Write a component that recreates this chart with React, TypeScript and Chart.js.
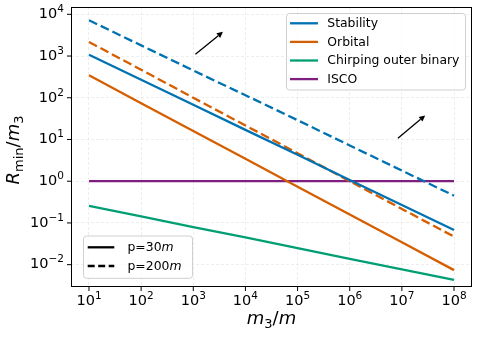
import React, { useEffect, useRef } from 'react';
import { Chart, registerables } from 'chart.js';

Chart.register(...registerables);

// ---- data ----
const massRatios = [1e1, 1e2, 1e3, 1e4, 1e5, 1e6, 1e7, 1e8];
const stabilityP30 = [1070, 270, 68, 17, 4.3, 1.07, 0.27, 0.068];
const stabilityP200 = [7200, 1800, 450, 115, 29, 7.2, 1.8, 0.45];
const orbitalP30 = [345, 74, 16, 3.45, 0.74, 0.16, 0.0345, 0.0074];
const orbitalP200 = [2170, 470, 100, 21.7, 4.7, 1.0, 0.217, 0.047];
const chirpingOuter = [0.257, 0.143, 0.079, 0.045, 0.025, 0.0138, 0.0077, 0.0043];
const iscoLine = [1, 1, 1, 1, 1, 1, 1, 1];

const xTickExponents = [1, 2, 3, 4, 5, 6, 7, 8];
const yTickExponents = [-2, -1, 0, 1, 2, 3, 4];

const seriesLabels = ['Stability', 'Orbital', 'Chirping outer binary', 'ISCO'];
const styleLabels = ['30', '200'];

// arrows (data coordinates): tail -> head
const arrowTailX = [1.1e3, 8.4e6];
const arrowTailY = [1.1e3, 10.7];
const arrowHeadX = [3.7e3, 2.8e7];
const arrowHeadY = [3.8e3, 37.7];

const BLUE = '#0072B2';
const ORANGE = '#D55E00';
const GREEN = '#009E73';
const PURPLE = '#7E1E80';
const seriesColors = [BLUE, ORANGE, GREEN, PURPLE];

const FONT = '"DejaVu Sans", sans-serif';
const LW = 2.3;
const DASH = [9, 4];

const pts = (ys: number[]) => massRatios.map((x, i) => ({ x, y: ys[i] }));

const decorPlugin = {
  id: 'decor',
  afterDraw(chart: any) {
    const { ctx, chartArea: a } = chart;
    const xs = chart.scales.x;
    const ys = chart.scales.y;
    ctx.save();

    // frame
    ctx.strokeStyle = '#000';
    ctx.lineWidth = 1;
    ctx.setLineDash([]);
    ctx.strokeRect(Math.round(a.left) + 0.5, Math.round(a.top) + 0.5, Math.round(a.right - a.left) - 1, Math.round(a.bottom - a.top) - 1);

    // ticks + labels
    ctx.fillStyle = '#000';
    const bigF = `14.5px ${FONT}`;
    const smallF = `10.5px ${FONT}`;
    xTickExponents.forEach((e) => {
      const px = xs.getPixelForValue(Math.pow(10, e));
      ctx.beginPath();
      ctx.moveTo(px, a.bottom);
      ctx.lineTo(px, a.bottom + 4);
      ctx.stroke();
      const es = String(e).replace('-', '\u2212');
      ctx.font = bigF;
      const w1 = ctx.measureText('10').width;
      ctx.font = smallF;
      const w2 = ctx.measureText(es).width;
      const start = px - (w1 + w2) / 2;
      ctx.textAlign = 'left';
      ctx.textBaseline = 'alphabetic';
      ctx.font = bigF;
      ctx.fillText('10', start, 305);
      ctx.font = smallF;
      ctx.fillText(es, start + w1, 299);
    });
    yTickExponents.forEach((e) => {
      const py = ys.getPixelForValue(Math.pow(10, e));
      ctx.beginPath();
      ctx.moveTo(a.left, py);
      ctx.lineTo(a.left - 4, py);
      ctx.stroke();
      const es = String(e).replace('-', '\u2212');
      ctx.font = smallF;
      const w2 = ctx.measureText(es).width;
      ctx.font = bigF;
      const w1 = ctx.measureText('10').width;
      const right = a.left - 7;
      ctx.textAlign = 'left';
      ctx.textBaseline = 'alphabetic';
      ctx.fillText('10', right - w2 - w1, py + 3.8);
      ctx.font = smallF;
      ctx.fillText(es, right - w2, py - 2.2);
    });

    // axis labels (mathtext-like)
    const LF = 18;
    const it = `italic ${LF}px ${FONT}`;
    const up = `${LF}px ${FONT}`;
    const sub = `${Math.round(LF * 0.7)}px ${FONT}`;
    const drawPieces = (pieces: [string, string, number][], cx: number, cy: number) => {
      let total = 0;
      pieces.forEach(([t, f]) => { ctx.font = f; total += ctx.measureText(t).width; });
      let cur = cx - total / 2;
      pieces.forEach(([t, f, dy]) => {
        ctx.font = f;
        ctx.fillText(t, cur, cy + dy);
        cur += ctx.measureText(t).width;
      });
    };
    ctx.textAlign = 'left';
    ctx.textBaseline = 'alphabetic';
    drawPieces([
      ['m', it, 0], ['3', sub, 4], ['/', up, 0], ['m', it, 0],
    ], (a.left + a.right) / 2, 324);

    ctx.save();
    ctx.translate(19, 150);
    ctx.rotate(-Math.PI / 2);
    drawPieces([
      ['R', it, 0], ['min', sub, 4], ['/', up, 0], ['m', it, 0], ['3', sub, 4],
    ], 0, 0);
    ctx.restore();

    // arrows
    ctx.strokeStyle = '#000';
    ctx.fillStyle = '#000';
    ctx.lineWidth = 1.3;
    arrowTailX.forEach((_, i) => {
      const x0 = xs.getPixelForValue(arrowTailX[i]);
      const y0 = ys.getPixelForValue(arrowTailY[i]);
      const x1 = xs.getPixelForValue(arrowHeadX[i]);
      const y1 = ys.getPixelForValue(arrowHeadY[i]);
      const ang = Math.atan2(y1 - y0, x1 - x0);
      const hl = 6, hw = 3;
      const bx = x1 - hl * Math.cos(ang);
      const by = y1 - hl * Math.sin(ang);
      ctx.beginPath();
      ctx.moveTo(x0, y0);
      ctx.lineTo(bx, by);
      ctx.stroke();
      ctx.beginPath();
      ctx.moveTo(x1, y1);
      ctx.lineTo(bx + hw * Math.sin(ang), by - hw * Math.cos(ang));
      ctx.lineTo(bx - hw * Math.sin(ang), by + hw * Math.cos(ang));
      ctx.closePath();
      ctx.fill();
    });

    const roundBox = (x: number, y: number, w: number, h: number) => {
      const r = 3;
      ctx.beginPath();
      ctx.moveTo(x + r, y);
      ctx.lineTo(x + w - r, y);
      ctx.arcTo(x + w, y, x + w, y + r, r);
      ctx.lineTo(x + w, y + h - r);
      ctx.arcTo(x + w, y + h, x + w - r, y + h, r);
      ctx.lineTo(x + r, y + h);
      ctx.arcTo(x, y + h, x, y + h - r, r);
      ctx.lineTo(x, y + r);
      ctx.arcTo(x, y, x + r, y, r);
      ctx.closePath();
      ctx.fillStyle = 'rgba(255,255,255,0.8)';
      ctx.fill();
      ctx.strokeStyle = '#d0d0d0';
      ctx.lineWidth = 1;
      ctx.stroke();
    };

    const LEGF = 12.4;

    // legend 1 (series colours)
    roundBox(286.5, 13.5, 179, 76.5);
    seriesLabels.forEach((lab, i) => {
      const yy = 23.3 + i * 18.6;
      ctx.strokeStyle = seriesColors[i];
      ctx.lineWidth = LW;
      ctx.setLineDash([]);
      ctx.beginPath();
      ctx.moveTo(290, yy);
      ctx.lineTo(318, yy);
      ctx.stroke();
      ctx.fillStyle = '#000';
      ctx.font = `${LEGF}px ${FONT}`;
      ctx.textBaseline = 'middle';
      ctx.textAlign = 'left';
      ctx.fillText(lab, 327.3, yy + 0.5);
    });

    // legend 2 (line styles)
    roundBox(83.5, 236, 109, 42.3);
    styleLabels.forEach((lab, i) => {
      const yy = 247.3 + i * 18.7;
      ctx.strokeStyle = '#000';
      ctx.lineWidth = LW;
      ctx.setLineDash(i === 0 ? [] : [7, 3.5]);
      ctx.beginPath();
      ctx.moveTo(87.7, yy);
      ctx.lineTo(114.3, yy);
      ctx.stroke();
      ctx.setLineDash([]);
      ctx.fillStyle = '#000';
      ctx.textBaseline = 'middle';
      ctx.textAlign = 'left';
      let cx = 127.5;
      const nf = `${LEGF}px ${FONT}`;
      const itf = `italic ${LEGF}px ${FONT}`;
      ctx.font = nf;
      ctx.fillText('p', cx, yy + 0.5);
      cx += ctx.measureText('p').width;
      ctx.fillText('=', cx, yy + 0.5);
      cx += ctx.measureText('=').width;
      ctx.fillText(lab, cx, yy + 0.5);
      cx += ctx.measureText(lab).width;
      ctx.font = itf;
      ctx.fillText('m', cx, yy + 0.5);
    });

    ctx.restore();
  },
};

export default function App() {
  const ref = useRef<HTMLCanvasElement | null>(null);
  useEffect(() => {
    if (!ref.current) return;
    const mk = (data: number[], color: string, dashed: boolean) => ({
      data: pts(data),
      borderColor: color,
      backgroundColor: color,
      borderWidth: LW,
      borderDash: dashed ? DASH : [],
      pointRadius: 0,
      showLine: true,
      fill: false,
      tension: 0,
      borderCapStyle: 'butt' as const,
    });
    const chart = new Chart(ref.current, {
      type: 'scatter',
      data: {
        datasets: [
          mk(stabilityP30, BLUE, false),
          mk(stabilityP200, BLUE, true),
          mk(orbitalP30, ORANGE, false),
          mk(orbitalP200, ORANGE, true),
          mk(chirpingOuter, GREEN, false),
          mk(iscoLine, PURPLE, false),
        ],
      },
      options: {
        animation: false,
        responsive: true,
        maintainAspectRatio: false,
        layout: { padding: { left: 0, top: 7, right: 7, bottom: 0 } },
        plugins: { legend: { display: false }, tooltip: { enabled: false } },
        scales: {
          x: {
            type: 'logarithmic',
            min: Math.pow(10, 0.655),
            max: Math.pow(10, 8.345),
            afterBuildTicks: (s: any) => { s.ticks = xTickExponents.map((e) => ({ value: Math.pow(10, e) })); },
            afterFit: (s: any) => { s.height = 50; },
            ticks: { display: false },
            grid: { color: 'rgba(170,170,170,0.25)', lineWidth: 0.8, drawTicks: false },
            border: { display: false, dash: [3, 2] },
          },
          y: {
            type: 'logarithmic',
            min: Math.pow(10, -2.535),
            max: Math.pow(10, 4.175),
            afterBuildTicks: (s: any) => { s.ticks = yTickExponents.map((e) => ({ value: Math.pow(10, e) })); },
            afterFit: (s: any) => { s.width = 71; },
            ticks: { display: false },
            grid: { color: 'rgba(170,170,170,0.25)', lineWidth: 0.8, drawTicks: false },
            border: { display: false, dash: [3, 2] },
          },
        },
      } as any,
      plugins: [decorPlugin],
    });
    return () => chart.destroy();
  }, []);
  return (
    <div style={{ position: 'absolute', left: 0, top: 0, width: 479, height: 337, background: '#fff' }}>
      <canvas ref={ref} />
    </div>
  );
}
